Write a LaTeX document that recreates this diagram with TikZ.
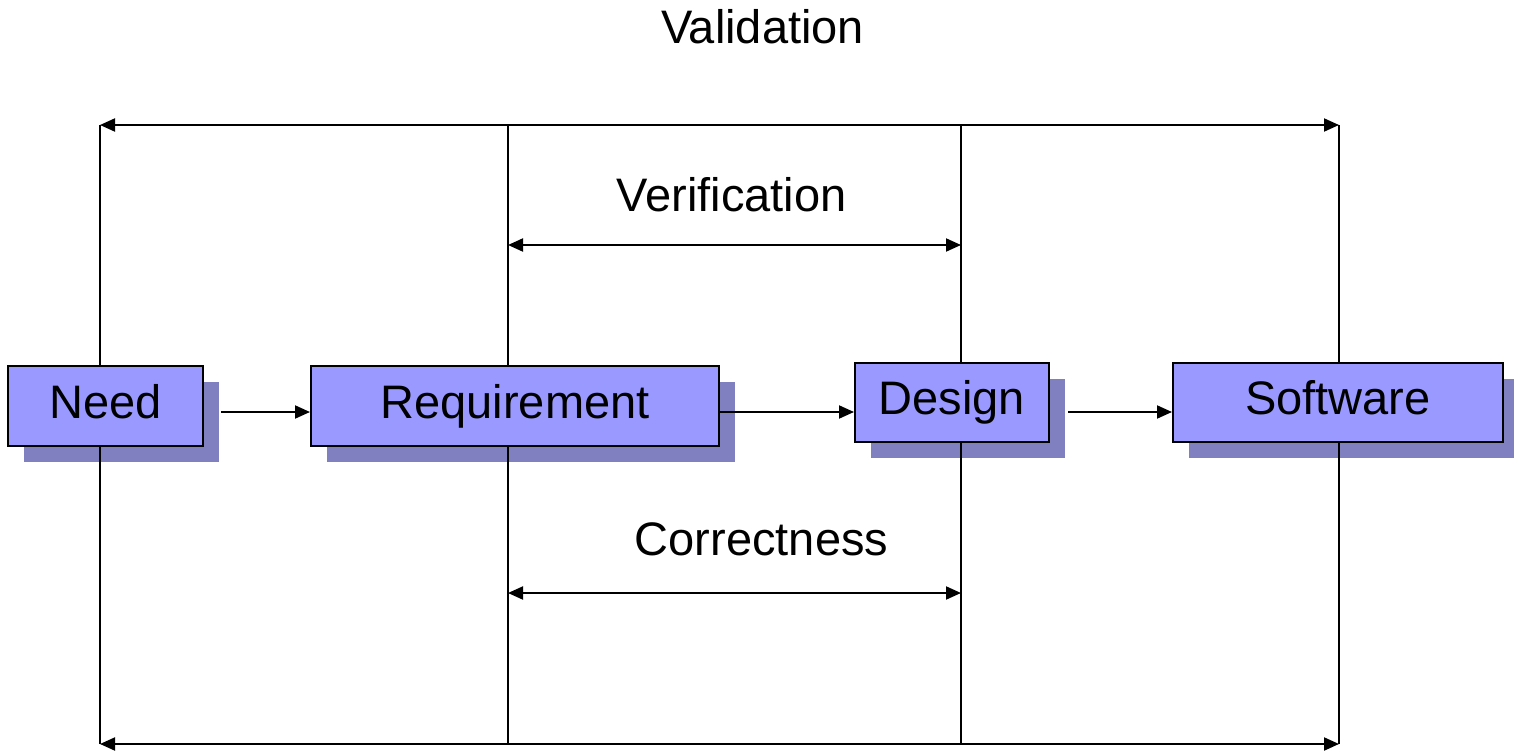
\documentclass[tikz,border=0pt]{standalone}
\usepackage{fontspec}
\setmainfont{Liberation Sans}
\usetikzlibrary{arrows.meta,shadows,calc}

\definecolor{boxfill}{HTML}{9999FF}
\definecolor{boxshade}{HTML}{8080C0}

\tikzset{
  stage/.style={draw=black, line width=2pt, fill=boxfill, inner sep=0pt,
    font=\fontsize{47}{54}\selectfont, text height=34pt, text depth=10pt,
    general shadow={shadow xshift=16pt, shadow yshift=-16pt, fill=boxshade, draw=none}},
  flow/.style={line width=2pt, -{Triangle[length=15pt,width=13pt]}},
  span/.style={line width=2pt, {Triangle[length=15pt,width=13pt]}-{Triangle[length=15pt,width=13pt]}},
  rail/.style={line width=2pt},
  caption/.style={anchor=base, inner sep=0pt, font=\fontsize{47}{54}\selectfont}
}

\begin{document}
\begin{tikzpicture}[x=1pt, y=-1pt]
  \useasboundingbox (0,0) rectangle (1514,752);

  % process stages
  \node[stage, minimum width=195pt, minimum height=80pt] (need) at (105.5,406) {Need};
  \node[stage, minimum width=408pt, minimum height=80pt] (req)  at (515,406)   {Requirement};
  \node[stage, minimum width=194pt, minimum height=79pt] (des)  at (952,402.5) {Design};
  \node[stage, minimum width=330pt, minimum height=79pt] (soft) at (1338,402.5){Software};

  % rail end points
  \coordinate (nt) at (100,125);  \coordinate (nb) at (100,744);
  \coordinate (rt) at (508,245);  \coordinate (rb) at (508,744);
  \coordinate (r0) at (508,125);  \coordinate (rc) at (508,593);
  \coordinate (dt) at (961,245);  \coordinate (db) at (961,744);
  \coordinate (d0) at (961,125);  \coordinate (dc) at (961,593);
  \coordinate (st) at (1339,125); \coordinate (sb) at (1339,744);

  % vertical rails above and below each stage
  \draw[rail] (nt) -- (nt |- need.north);
  \draw[rail] (nb) -- (nb |- need.south);
  \draw[rail] (r0) -- (r0 |- req.north);
  \draw[rail] (rb) -- (rb |- req.south);
  \draw[rail] (d0) -- (d0 |- des.north);
  \draw[rail] (db) -- (db |- des.south);
  \draw[rail] (st) -- (st |- soft.north);
  \draw[rail] (sb) -- (sb |- soft.south);

  % flow between stages
  \draw[flow] ([xshift=17pt,yshift=-6pt]need.east) -- ([yshift=-6pt]req.west);
  \draw[flow] ([yshift=-6pt]req.east) -- ([yshift=-9.5pt]des.west);
  \draw[flow] ([xshift=18pt,yshift=-9.5pt]des.east) -- ([yshift=-9.5pt]soft.west);

  % spans
  \draw[span] (nt) -- (st);
  \draw[span] (rt) -- (dt);
  \draw[span] (rc) -- (dc);
  \draw[span] (nb) -- (sb);

  % span labels
  \node[caption] (val) at (762.5,44)  {Validation};
  \node[caption] (ver) at (731.5,211) {Verification};
  \node[caption] (cor) at (761.5,555) {Correctness};
\end{tikzpicture}
\end{document}
